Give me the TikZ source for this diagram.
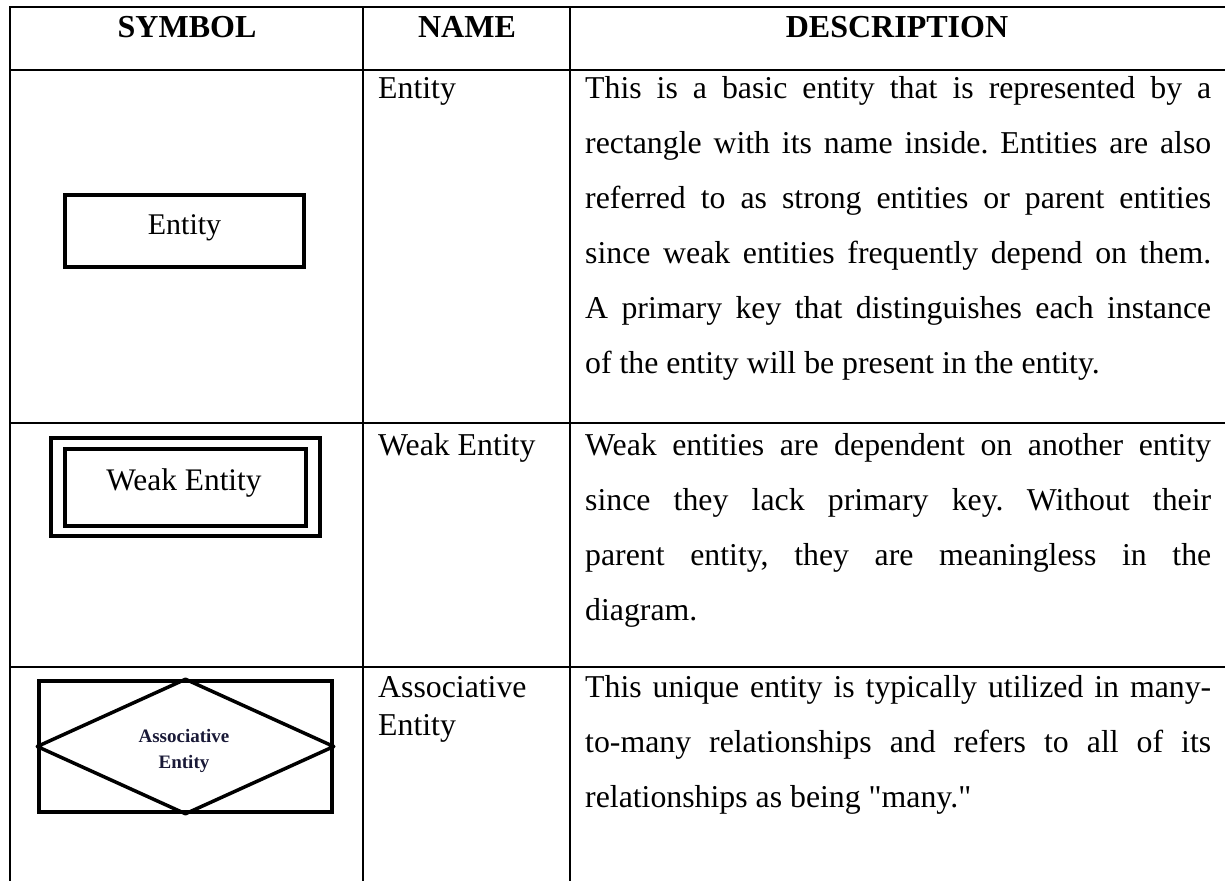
\documentclass[tikz,border=0pt]{standalone}
\usepackage{fontspec}
\setmainfont{Liberation Serif}
% same face without TeX ligature mapping, for straight double quotes
\newfontfamily\plainserif{Liberation Serif}[Ligatures=ResetAll]
\frenchspacing
% one justified line of the description column
\newcommand{\justline}[1]{\makebox[626pt][s]{#1}}
\newcommand{\sq}{{\plainserif"}}
\begin{document}
\begin{tikzpicture}[x=1pt,y=-1pt,
  rule/.style={line width=2pt},
  body/.style={font=\fontsize{31.8}{38}\selectfont, inner sep=0pt, anchor=base west},
  head/.style={font=\fontsize{32}{38}\selectfont\bfseries, inner sep=0pt, anchor=base},
  symbox/.style={draw, line width=4pt, inner sep=0pt},
  symtext/.style={inner sep=0pt, anchor=base},
]
\useasboundingbox (0,0) rectangle (1225,881);

% table rules
\draw[rule] (9,7) -- (1225,7);
\draw[rule] (9,70) -- (1225,70);
\draw[rule] (9,423) -- (1225,423);
\draw[rule] (9,667) -- (1225,667);
\draw[rule] (10,6) -- (10,881);
\draw[rule] (363,6) -- (363,881);
\draw[rule] (570,6) -- (570,881);

% header
\node[head] (hsym)  at (187,37) {SYMBOL};
\node[head] (hname) at (467,37) {NAME};
\node[head] (hdesc) at (897,37) {DESCRIPTION};

% row 1: entity
\node[symbox, minimum width=239, minimum height=72] (ent) at (184.5,231) {};
\node[symtext, font=\fontsize{30}{36}\selectfont] (entlbl) at (184.5,234) {Entity};
\node[body] (n1) at (378,98) {Entity};
\node[body] (d1a) at (585,98)  {\justline{This is a basic entity that is represented by a}};
\node[body] (d1b) at (585,153) {\justline{rectangle with its name inside. Entities are also}};
\node[body] (d1c) at (585,208) {\justline{referred to as strong entities or parent entities}};
\node[body] (d1d) at (585,263) {\justline{since weak entities frequently depend on them.}};
\node[body] (d1e) at (585,318) {\justline{A primary key that distinguishes each instance}};
\node[body] (d1f) at (585,373) {of the entity will be present in the entity.};

% row 2: weak entity
\node[symbox, minimum width=269, minimum height=98] (wkout) at (185.5,487) {};
\node[symbox, minimum width=241, minimum height=77] (wkin) at (185.5,487.5) {};
\node[symtext, font=\fontsize{31.4}{36}\selectfont] (wklbl) at (184,490) {Weak Entity};
\node[body] (n2) at (378,455) {Weak Entity};
\node[body] (d2a) at (585,455) {\justline{Weak entities are dependent on another entity}};
\node[body] (d2b) at (585,510) {\justline{since they lack primary key. Without their}};
\node[body] (d2c) at (585,565) {\justline{parent entity, they are meaningless in the}};
\node[body] (d2d) at (585,620) {diagram.};

% row 3: associative entity
\node[symbox, line width=3.5pt, minimum width=293, minimum height=131] (as) at (185.5,746.5) {};
\draw[line width=3.5pt, line join=round] (as.north) -- (as.west) -- (as.south) -- (as.east) -- cycle;
\node[symtext, font=\fontsize{19}{24}\selectfont\bfseries, text={rgb,255:red,25;green,25;blue,55}] (aslbl1) at (184,742) {Associative};
\node[symtext, font=\fontsize{19}{24}\selectfont\bfseries, text={rgb,255:red,25;green,25;blue,55}] (aslbl2) at (184,768) {Entity};
\node[body] (n3a) at (378,697) {Associative};
\node[body] (n3b) at (378,735) {Entity};
\node[body] (d3a) at (585,697) {\justline{This unique entity is typically utilized in many-}};
\node[body] (d3b) at (585,752) {\justline{to-many relationships and refers to all of its}};
\node[body] (d3c) at (585,807) {relationships as being \sq many.\sq};
\end{tikzpicture}
\end{document}
